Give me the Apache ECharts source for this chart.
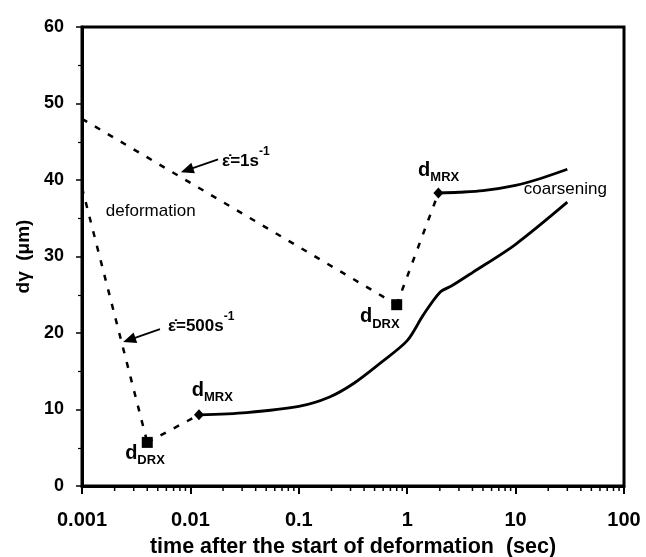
<!DOCTYPE html>
<html>
<head>
<meta charset="utf-8">
<script src="https://cdn.jsdelivr.net/npm/echarts@6/dist/echarts.min.js"></script>
<style>html,body{margin:0;padding:0;background:#fff}#c{width:646px;height:557px}</style>
</head>
<body>
<div id="c"></div>
<script>
// ---- data ----
var xTickLabels = {0.001:'0.001', 0.01:'0.01', 0.1:'0.1', 1:'1', 10:'10', 100:'100'};
var xMinorTicks = [0.002,0.003,0.004,0.005,0.006,0.007,0.008,0.009,
                   0.02,0.03,0.04,0.05,0.06,0.07,0.08,0.09,
                   0.2,0.3,0.4,0.5,0.6,0.7,0.8,0.9,
                   2,3,4,5,6,7,8,9,
                   20,30,40,50,60,70,80,90];
var rate1Deform = [[0.001,48.0],[0.8,23.7]];
var rate1ToMRX  = [[0.8,23.7],[1.94,38.3]];
var rate1Coarsen = [[1.94,38.3],[3,38.4],[5,38.6],[10,39.3],[17,40.2],[30,41.4]];
var rate500Deform = [[0.001,39.0],[0.004,5.7]];
var rate500ToMRX  = [[0.004,5.7],[0.012,9.3]];
var rate500Coarsen = [[0.012,9.3],[0.033,9.6],[0.1,10.4],[0.19,11.6],[0.32,13.4],[0.58,16.2],[1,19.0],[1.4,22.3],[2.0,25.3],[2.6,26.2],[4,27.9],[10,31.6],[30,37.1]];
var dDRXPoints = [[0.8,23.7],[0.004,5.7]];
var dMRXPoints = [[1.94,38.3],[0.012,9.3]];
var arrows = [
  [[0.018,42.7],[0.0093,41.3]],
  [[0.00524,20.5],[0.00273,19.1]]
];
var labels = [
  {pos:[0.00166,35.9], text:'{p|deformation}'},
  {pos:[11.9,38.8], text:'{p|coarsening}'},
  {pos:[0.0196,42.9], text:'{b|ε̇=1s}{sup|-1}'},
  {pos:[0.0062,21.3], text:'{b|ε̇=500s}{sup|-1}'},
  {pos:[0.0103,12.5], text:'{d|d}{sub|MRX}'},
  {pos:[0.0025,4.3], text:'{d|d}{sub|DRX}'},
  {pos:[1.26,41.3], text:'{d|d}{sub|MRX}'},
  {pos:[0.367,22.1], text:'{d|d}{sub|DRX}'}
];

var FONT = '"Liberation Sans", Arial, Helvetica, sans-serif';
var chart = echarts.init(document.getElementById('c'));

var rich = {
  p:{fontSize:17, fontWeight:'normal', fontFamily:FONT, color:'#000', lineHeight:20},
  b:{fontSize:17, fontWeight:'bold', fontFamily:FONT, color:'#000', lineHeight:24, verticalAlign:'bottom'},
  sup:{fontSize:12, fontWeight:'bold', fontFamily:FONT, color:'#000', lineHeight:12, padding:[0,0,10,0], verticalAlign:'top'},
  d:{fontSize:20, fontWeight:'bold', fontFamily:FONT, color:'#000', lineHeight:20, verticalAlign:'middle'},
  sub:{fontSize:13, fontWeight:'bold', fontFamily:FONT, color:'#000', lineHeight:13, padding:[11,0,0,0], verticalAlign:'top'}
};

function lineSeries(data, dashed, smooth) {
  return {
    type:'line', data:data, showSymbol:false, symbol:'none', smooth:smooth ? 0.3 : false,
    lineStyle:{color:'#000', width: dashed ? 2.5 : 2.8, type: dashed ? [6,9] : 'solid'},
    z:3, silent:true
  };
}

var series = [
  lineSeries(rate1Deform, true, false),
  lineSeries(rate1ToMRX, true, false),
  lineSeries(rate1Coarsen, false, true),
  lineSeries(rate500Deform, true, false),
  lineSeries(rate500ToMRX, true, false),
  lineSeries(rate500Coarsen, false, true),
  {type:'scatter', data:dDRXPoints, symbol:'rect', symbolSize:11, itemStyle:{color:'#000', opacity:1}, z:5, silent:true},
  {type:'scatter', data:dMRXPoints, symbol:'diamond', symbolSize:[10,11], itemStyle:{color:'#000', opacity:1}, z:5, silent:true},
  {type:'lines', coordinateSystem:'cartesian2d', polyline:false,
   data: arrows.map(function(a){return {coords:a};}),
   symbol:['none','triangle'], symbolSize:[0,[11,13]],
   lineStyle:{color:'#000', width:1.8, opacity:1}, itemStyle:{color:'#000'}, z:4, silent:true},
  {type:'custom', clip:false, silent:true, z:6,
   data: xMinorTicks.map(function(v){return [v,0];}),
   renderItem:function(params, api){
     var p = api.coord([api.value(0), 0]);
     return {type:'line', shape:{x1:p[0], y1:p[1], x2:p[0], y2:p[1]+5}, style:{stroke:'#000', lineWidth:1.5}};
   }},
  {type:'scatter', symbolSize:0, silent:true, z:7, itemStyle:{opacity:1},
   data: labels.map(function(l){return {value:l.pos, label:{formatter:l.text}};}),
   label:{show:true, position:'right', distance:0, color:'#000', fontFamily:FONT, fontSize:17, rich:rich}}
];

chart.setOption({
  animation:false,
  backgroundColor:'#fff',
  grid:{left:82, right:22, top:27, bottom:71, containLabel:false, outerBoundsMode:'none',
        show:true, borderColor:'#000', borderWidth:3, backgroundColor:'transparent'},
  xAxis:{
    type:'log', logBase:10, min:0.001, max:100,
    name:'time after the start of deformation  (sec)', nameLocation:'middle', nameGap:50,
    nameTextStyle:{fontSize:21.5, fontWeight:'bold', fontFamily:FONT, color:'#000'},
    axisLine:{show:true, lineStyle:{color:'#000', width:3}},
    axisTick:{show:true, inside:false, length:8, lineStyle:{color:'#000', width:2}},
    minorTick:{show:false},
    splitLine:{show:false},
    axisLabel:{margin:24, fontSize:20, fontWeight:'bold', fontFamily:FONT, color:'#000',
      formatter:function(v){ var k = Number(v.toPrecision(3)); return xTickLabels[k] !== undefined ? xTickLabels[k] : ''; }}
  },
  yAxis:{
    type:'value', min:0, max:60, interval:10,
    name:'{t|dγ  (μm)}', nameLocation:'middle', nameGap:47, nameRotate:90,
    nameTextStyle:{rich:{t:{fontSize:19, fontWeight:'bold', fontFamily:FONT, color:'#000'}}},
    axisLine:{show:true, lineStyle:{color:'#000', width:3}},
    axisTick:{show:true, inside:false, length:6, lineStyle:{color:'#000', width:1.5}},
    minorTick:{show:true, splitNumber:2, length:4, lineStyle:{color:'#000', width:1.2}},
    splitLine:{show:false},
    axisLabel:{margin:18, fontSize:18, fontWeight:'bold', fontFamily:FONT, color:'#000'}
  },
  series:series
});
</script>
</body>
</html>
